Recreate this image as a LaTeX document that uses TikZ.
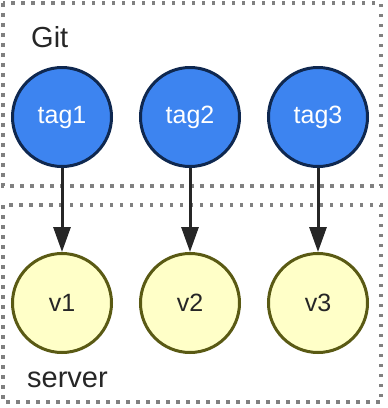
\documentclass[tikz,border=0pt]{standalone}
\usepackage{fontspec}
\setmainfont{Liberation Sans}
\usetikzlibrary{arrows.meta}
\definecolor{tagfill}{HTML}{3D84F0}
\definecolor{tagline}{HTML}{0F2850}
\definecolor{vfill}{HTML}{FFFFC8}
\definecolor{vline}{HTML}{5A5A14}
\definecolor{boxline}{HTML}{808080}
\definecolor{arrowc}{HTML}{262626}
\begin{document}
\begin{tikzpicture}[x=1pt,y=-1pt,
  tagnode/.style={circle,draw=tagline,fill=tagfill,line width=3pt,minimum size=99pt,inner sep=0pt,text=white,font=\fontsize{25}{30}\selectfont},
  vnode/.style={circle,draw=vline,fill=vfill,line width=3pt,minimum size=99pt,inner sep=0pt,text=black!85,font=\fontsize{25}{30}\selectfont},
  grp/.style={draw=boxline,line width=3.5pt,dash pattern=on 3.5pt off 6.5pt},
  lbl/.style={font=\fontsize{29}{34}\selectfont,text=black!85,inner sep=0pt,anchor=west},
  conn/.style={draw=arrowc,line width=3pt,-{Triangle[length=25pt,width=17pt]}}]
\useasboundingbox (0,0) rectangle (388,408);
\draw[grp] (3,3) rectangle (381,186);
\draw[grp] (3,205) rectangle (381,402);
\node[lbl] (git) at (31,37) {Git};
\node[lbl] (server) at (27,380) {server};
\node[tagnode] (t1) at (62,117) {tag1};
\node[tagnode] (t2) at (190,117) {tag2};
\node[tagnode] (t3) at (318,117) {tag3};
\node[vnode] (v1) at (62,303) {v1};
\node[vnode] (v2) at (190,303) {v2};
\node[vnode] (v3) at (318,303) {v3};
\draw[conn] (t1) -- (v1);
\draw[conn] (t2) -- (v2);
\draw[conn] (t3) -- (v3);
\end{tikzpicture}
\end{document}
